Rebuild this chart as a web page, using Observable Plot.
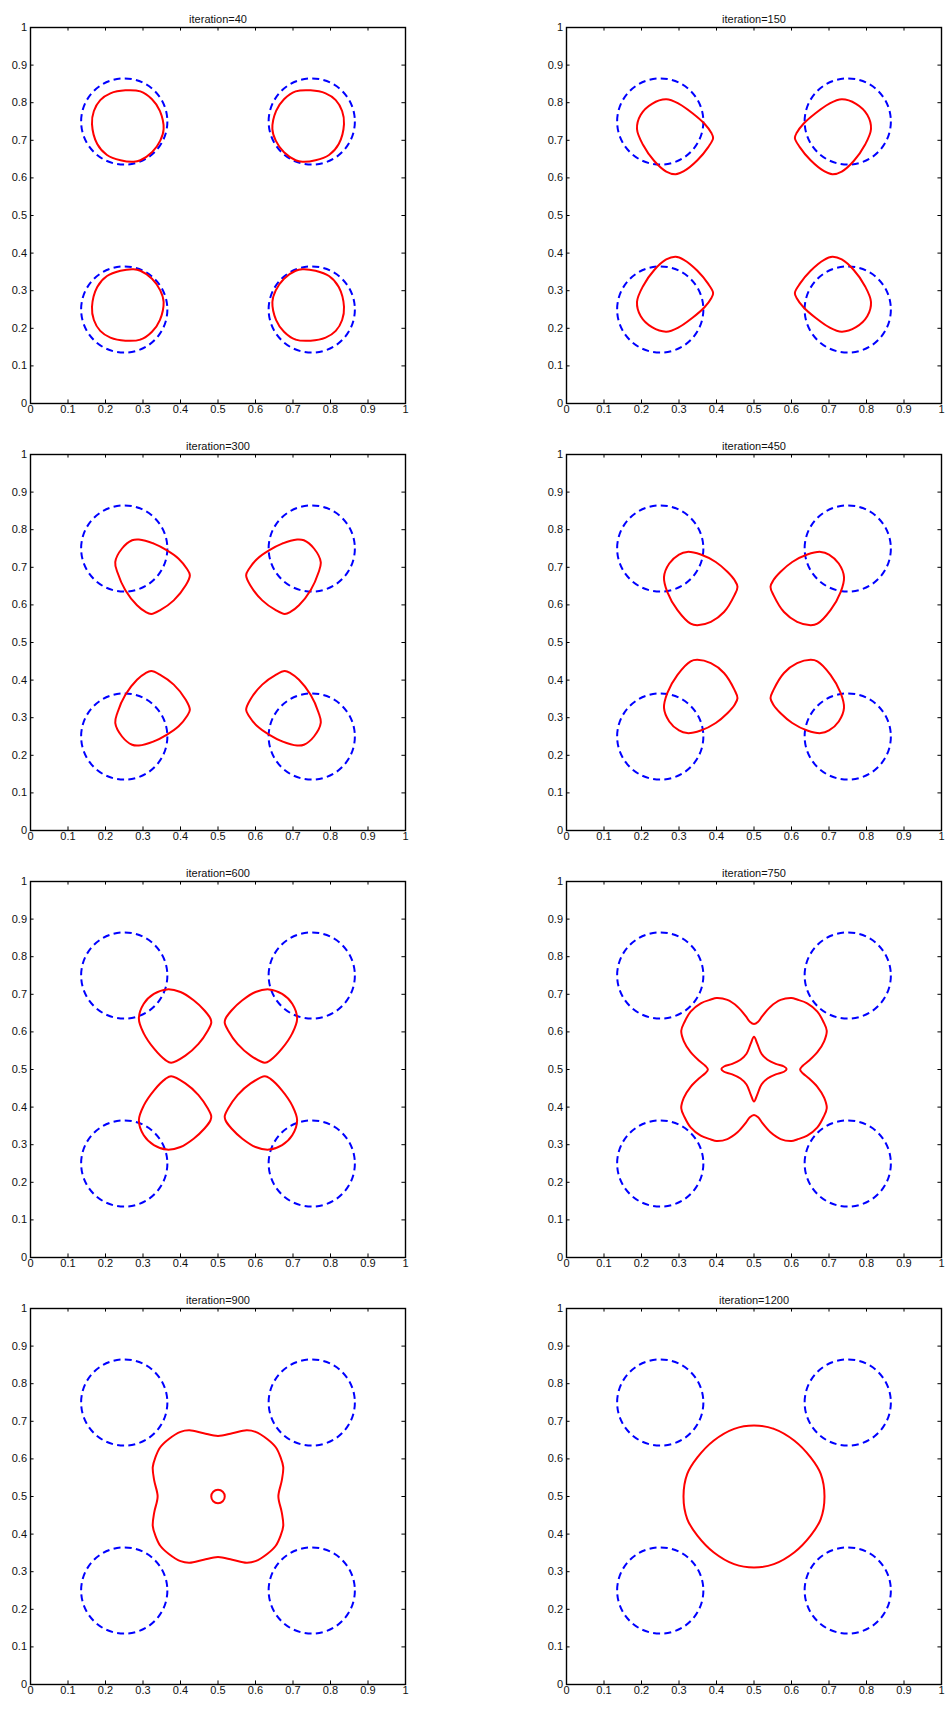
<!DOCTYPE html>
<html>
<head>
<meta charset="utf-8">
<script src="https://cdn.jsdelivr.net/npm/d3@7"></script>
<script src="https://cdn.jsdelivr.net/npm/@observablehq/plot@0.6"></script>
<style>
  html, body { margin: 0; padding: 0; background: #fff; }
  #wrap { position: relative; width: 949px; height: 1709px; background: #fff; }
</style>
</head>
<body>
<div id="wrap"></div>
<script>
// ---------- data ----------
const tickValues = [0, 0.1, 0.2, 0.3, 0.4, 0.5, 0.6, 0.7, 0.8, 0.9, 1];
const tickLabels = ["0", "0.1", "0.2", "0.3", "0.4", "0.5", "0.6", "0.7", "0.8", "0.9", "1"];
const panelTitles = ["iteration=40", "iteration=150", "iteration=300", "iteration=450",
                     "iteration=600", "iteration=750", "iteration=900", "iteration=1200"];

// initial (dashed blue) circles
const initialCentersX = [0.25, 0.75, 0.25, 0.75];
const initialCentersY = [0.75, 0.75, 0.25, 0.25];
const initialRadius = 0.115;

// evolving (red) fronts, one list of closed curves per panel
const front40 = [
  [[0.253,0.833],[0.293,0.830],[0.324,0.809],[0.345,0.778],[0.355,0.730],[0.346,0.699],[0.324,0.668],[0.293,0.647],[0.275,0.643],[0.240,0.647],[0.204,0.661],[0.178,0.690],[0.164,0.743],[0.169,0.778],[0.186,0.807],[0.213,0.825]],
  [[0.747,0.833],[0.707,0.830],[0.676,0.809],[0.655,0.778],[0.645,0.730],[0.654,0.699],[0.676,0.668],[0.707,0.647],[0.725,0.643],[0.760,0.647],[0.796,0.661],[0.822,0.690],[0.836,0.743],[0.831,0.778],[0.814,0.807],[0.787,0.825]],
  [[0.253,0.167],[0.293,0.170],[0.324,0.191],[0.345,0.222],[0.355,0.270],[0.346,0.301],[0.324,0.332],[0.293,0.353],[0.275,0.357],[0.240,0.353],[0.204,0.339],[0.178,0.310],[0.164,0.257],[0.169,0.222],[0.186,0.193],[0.213,0.175]],
  [[0.747,0.167],[0.707,0.170],[0.676,0.191],[0.655,0.222],[0.645,0.270],[0.654,0.301],[0.676,0.332],[0.707,0.353],[0.725,0.357],[0.760,0.353],[0.796,0.339],[0.822,0.310],[0.836,0.257],[0.831,0.222],[0.814,0.193],[0.787,0.175]]
];
const front150 = [
  [[0.266,0.809],[0.300,0.797],[0.336,0.772],[0.368,0.744],[0.386,0.720],[0.391,0.706],[0.378,0.682],[0.349,0.647],[0.313,0.618],[0.291,0.610],[0.266,0.617],[0.234,0.645],[0.204,0.688],[0.188,0.730],[0.198,0.768],[0.228,0.797]],
  [[0.734,0.809],[0.700,0.797],[0.664,0.772],[0.632,0.744],[0.614,0.720],[0.609,0.706],[0.622,0.682],[0.651,0.647],[0.687,0.618],[0.709,0.610],[0.734,0.617],[0.766,0.645],[0.796,0.688],[0.812,0.730],[0.802,0.768],[0.772,0.797]],
  [[0.266,0.191],[0.300,0.203],[0.336,0.228],[0.368,0.256],[0.386,0.280],[0.391,0.294],[0.378,0.318],[0.349,0.353],[0.313,0.382],[0.291,0.390],[0.266,0.383],[0.234,0.355],[0.204,0.312],[0.188,0.270],[0.198,0.232],[0.228,0.203]],
  [[0.734,0.191],[0.700,0.203],[0.664,0.228],[0.632,0.256],[0.614,0.280],[0.609,0.294],[0.622,0.318],[0.651,0.353],[0.687,0.382],[0.709,0.390],[0.734,0.383],[0.766,0.355],[0.796,0.312],[0.812,0.270],[0.802,0.232],[0.772,0.203]]
];
const front300 = [
  [[0.289,0.774],[0.329,0.763],[0.364,0.745],[0.395,0.723],[0.417,0.696],[0.425,0.679],[0.414,0.652],[0.382,0.612],[0.346,0.586],[0.322,0.576],[0.306,0.582],[0.284,0.599],[0.253,0.639],[0.232,0.686],[0.226,0.714],[0.244,0.750],[0.271,0.772]],
  [[0.711,0.774],[0.671,0.763],[0.636,0.745],[0.605,0.723],[0.583,0.696],[0.575,0.679],[0.586,0.652],[0.618,0.612],[0.654,0.586],[0.678,0.576],[0.694,0.582],[0.716,0.599],[0.747,0.639],[0.768,0.686],[0.774,0.714],[0.756,0.750],[0.729,0.772]],
  [[0.289,0.226],[0.329,0.237],[0.364,0.255],[0.395,0.277],[0.417,0.304],[0.425,0.321],[0.414,0.348],[0.382,0.388],[0.346,0.414],[0.322,0.424],[0.306,0.418],[0.284,0.401],[0.253,0.361],[0.232,0.314],[0.226,0.286],[0.244,0.250],[0.271,0.228]],
  [[0.711,0.226],[0.671,0.237],[0.636,0.255],[0.605,0.277],[0.583,0.304],[0.575,0.321],[0.586,0.348],[0.618,0.388],[0.654,0.414],[0.678,0.424],[0.694,0.418],[0.716,0.401],[0.747,0.361],[0.768,0.314],[0.774,0.286],[0.756,0.250],[0.729,0.228]]
];
const front450 = [
  [[0.322,0.741],[0.358,0.734],[0.398,0.714],[0.429,0.688],[0.448,0.666],[0.456,0.648],[0.448,0.626],[0.420,0.581],[0.385,0.555],[0.349,0.546],[0.331,0.550],[0.296,0.586],[0.269,0.634],[0.260,0.674],[0.274,0.710],[0.300,0.734]],
  [[0.678,0.741],[0.642,0.734],[0.602,0.714],[0.571,0.688],[0.552,0.666],[0.544,0.648],[0.552,0.626],[0.580,0.581],[0.615,0.555],[0.651,0.546],[0.669,0.550],[0.704,0.586],[0.731,0.634],[0.740,0.674],[0.726,0.710],[0.700,0.734]],
  [[0.322,0.259],[0.358,0.266],[0.398,0.286],[0.429,0.312],[0.448,0.334],[0.456,0.352],[0.448,0.374],[0.420,0.419],[0.385,0.445],[0.349,0.454],[0.331,0.450],[0.296,0.414],[0.269,0.366],[0.260,0.326],[0.274,0.290],[0.300,0.266]],
  [[0.678,0.259],[0.642,0.266],[0.602,0.286],[0.571,0.312],[0.552,0.334],[0.544,0.352],[0.552,0.374],[0.580,0.419],[0.615,0.445],[0.651,0.454],[0.669,0.450],[0.704,0.414],[0.731,0.366],[0.740,0.326],[0.726,0.290],[0.700,0.266]]
];
const front600 = [
  [[0.364,0.713],[0.400,0.706],[0.435,0.684],[0.464,0.657],[0.480,0.635],[0.482,0.624],[0.473,0.604],[0.448,0.568],[0.413,0.537],[0.375,0.518],[0.360,0.525],[0.329,0.556],[0.302,0.596],[0.289,0.635],[0.302,0.675],[0.329,0.701]],
  [[0.636,0.713],[0.600,0.706],[0.565,0.684],[0.536,0.657],[0.520,0.635],[0.518,0.624],[0.527,0.604],[0.552,0.568],[0.587,0.537],[0.625,0.518],[0.640,0.525],[0.671,0.556],[0.698,0.596],[0.711,0.635],[0.698,0.675],[0.671,0.701]],
  [[0.364,0.287],[0.400,0.294],[0.435,0.316],[0.464,0.343],[0.480,0.365],[0.482,0.376],[0.473,0.396],[0.448,0.432],[0.413,0.463],[0.375,0.482],[0.360,0.475],[0.329,0.444],[0.302,0.404],[0.289,0.365],[0.302,0.325],[0.329,0.299]],
  [[0.636,0.287],[0.600,0.294],[0.565,0.316],[0.536,0.343],[0.520,0.365],[0.518,0.376],[0.527,0.396],[0.552,0.432],[0.587,0.463],[0.625,0.482],[0.640,0.475],[0.671,0.444],[0.698,0.404],[0.711,0.365],[0.698,0.325],[0.671,0.299]]
];
const front750 = [
  [[0.500,0.621],[0.489,0.627],[0.478,0.642],[0.456,0.667],[0.429,0.685],[0.400,0.690],[0.385,0.686],[0.358,0.676],[0.331,0.654],[0.315,0.627],[0.306,0.603],[0.313,0.575],[0.331,0.546],[0.353,0.524],[0.370,0.510],
   [0.377,0.500],
   [0.370,0.490],[0.353,0.476],[0.331,0.454],[0.313,0.425],[0.306,0.397],[0.315,0.373],[0.331,0.346],[0.358,0.324],[0.385,0.314],[0.400,0.310],[0.429,0.315],[0.456,0.333],[0.478,0.358],[0.489,0.373],
   [0.500,0.379],
   [0.511,0.373],[0.522,0.358],[0.544,0.333],[0.571,0.315],[0.600,0.310],[0.615,0.314],[0.642,0.324],[0.669,0.346],[0.685,0.373],[0.694,0.397],[0.687,0.425],[0.669,0.454],[0.647,0.476],[0.630,0.490],
   [0.623,0.500],
   [0.630,0.510],[0.647,0.524],[0.669,0.546],[0.687,0.575],[0.694,0.603],[0.685,0.627],[0.669,0.654],[0.642,0.676],[0.615,0.686],[0.600,0.690],[0.571,0.685],[0.544,0.667],[0.522,0.642],[0.511,0.627]],
  [[0.500,0.587],[0.509,0.568],[0.520,0.542],[0.536,0.526],[0.558,0.515],[0.580,0.508],[0.587,0.501],[0.580,0.494],[0.558,0.487],[0.536,0.476],[0.520,0.460],[0.509,0.434],[0.500,0.415],[0.491,0.434],[0.480,0.460],[0.464,0.476],[0.442,0.487],[0.420,0.494],[0.413,0.501],[0.420,0.508],[0.442,0.515],[0.464,0.526],[0.480,0.542],[0.491,0.568]]
];
const front900 = [
  [[0.500,0.661],[0.462,0.668],[0.424,0.676],[0.400,0.672],[0.369,0.653],[0.346,0.631],[0.333,0.604],[0.326,0.578],[0.330,0.542],[0.339,0.500],
   [0.330,0.458],[0.326,0.422],[0.333,0.396],[0.346,0.369],[0.369,0.347],[0.400,0.328],[0.424,0.324],[0.462,0.332],[0.500,0.339],
   [0.538,0.332],[0.576,0.324],[0.600,0.328],[0.631,0.347],[0.654,0.369],[0.667,0.396],[0.674,0.422],[0.670,0.458],[0.661,0.500],
   [0.670,0.542],[0.674,0.578],[0.667,0.604],[0.654,0.631],[0.631,0.653],[0.600,0.672],[0.576,0.676],[0.538,0.668]]
];
// tiny closed loop at the centre of iteration=900
const loop900X = [0.5];
const loop900Y = [0.5];
const loop900R = [0.018];
const front1200 = [
  [[0.500,0.689],[0.553,0.680],[0.607,0.649],[0.651,0.604],[0.678,0.560],[0.688,0.500],[0.678,0.440],[0.651,0.396],[0.607,0.351],[0.553,0.320],[0.500,0.311],[0.447,0.320],[0.393,0.351],[0.349,0.396],[0.322,0.440],[0.312,0.500],[0.322,0.560],[0.349,0.604],[0.393,0.649],[0.447,0.680]]
];

const fronts = [front40, front150, front300, front450, front600, front750, front900, front1200];
const loops = [[], [], [], [], [], [], loop900X.map((x, i) => ({x, y: loop900Y[i], r: loop900R[i]})), []];

// ---------- drawing ----------
const wrap = document.getElementById("wrap");
const ROW_H = 427;
const tickLen = 0.0095;
const FONT = "'Liberation Sans', Arial, Helvetica, sans-serif";

function makePanel(i) {
  const col = i % 2, row = Math.floor(i / 2);
  const width = col === 0 ? 430 : 413;
  const marginLeft = 30, marginRight = col === 0 ? 25 : 8;
  const frameW = width - marginLeft - marginRight;

  const pts = [];
  fronts[i].forEach((c, k) => c.forEach(([x, y]) => pts.push({x, y, k})));
  const circles = initialCentersX.map((x, j) => ({x, y: initialCentersY[j], r: initialRadius}));
  const ticks = tickValues.map((v, j) => ({v, label: tickLabels[j]}));

  const svg = Plot.plot({
    width, height: ROW_H,
    marginLeft, marginRight, marginTop: 27, marginBottom: 24,
    style: {fontFamily: FONT, background: "white", overflow: "visible"},
    x: {domain: [0, 1], axis: null},
    y: {domain: [0, 1], axis: null},
    r: {type: "linear", domain: [0, 1], range: [0, frameW]},
    marks: [
      Plot.dot(circles, {x: "x", y: "y", r: "r", fill: "none", stroke: "#0000ff",
        strokeWidth: 2, strokeDasharray: "7,4.3"}),
      Plot.line(pts, {x: "x", y: "y", z: "k", curve: "catmull-rom-closed",
        stroke: "#ff0000", strokeWidth: 2}),
      Plot.dot(loops[i], {x: "x", y: "y", r: "r", fill: "none", stroke: "#ff0000", strokeWidth: 2}),
      Plot.frame({stroke: "#000", strokeWidth: 1.4}),
      Plot.ruleX(ticks, {x: "v", y1: 0, y2: tickLen, stroke: "#000"}),
      Plot.ruleX(ticks, {x: "v", y1: 1 - tickLen, y2: 1, stroke: "#000"}),
      Plot.ruleY(ticks, {y: "v", x1: 0, x2: tickLen, stroke: "#000"}),
      Plot.ruleY(ticks, {y: "v", x1: 1 - tickLen, x2: 1, stroke: "#000"}),
      Plot.text(ticks, {x: "v", text: "label", frameAnchor: "bottom", dy: 9.5,
        fontSize: 11, fill: "#111"}),
      Plot.text(ticks, {y: "v", text: "label", frameAnchor: "left", textAnchor: "end", dx: -3.5,
        fontSize: 11, fill: "#111"}),
      Plot.text([panelTitles[i]], {text: d => d, frameAnchor: "top", dy: -12,
        fontSize: 11, fill: "#111"})
    ]
  });
  svg.style.position = "absolute";
  svg.style.left = (col === 0 ? 0 : 536) + "px";
  svg.style.top = (row * ROW_H) + "px";
  svg.style.maxWidth = "none";
  wrap.appendChild(svg);
}

for (let i = 0; i < 8; i++) makePanel(i);
</script>
</body>
</html>
